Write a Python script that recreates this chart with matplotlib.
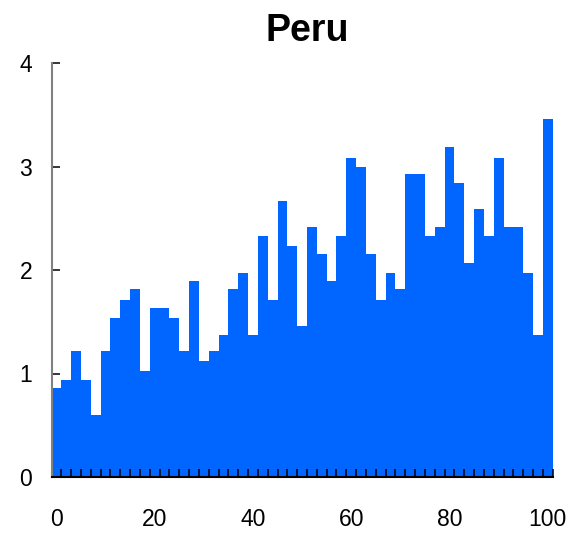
import matplotlib
matplotlib.use("Agg")
import matplotlib.pyplot as plt
import numpy as np
from matplotlib.ticker import MultipleLocator, FixedLocator

plt.rcParams['font.family'] = ['Liberation Sans', 'DejaVu Sans']

title = "Peru"
x_centers = list(range(0, 101, 2))
values = [0.86, 0.94, 1.22, 0.94, 0.60, 1.22, 1.54, 1.71, 1.82, 1.02,
          1.63, 1.63, 1.54, 1.22, 1.89, 1.12, 1.22, 1.37, 1.82, 1.97,
          1.37, 2.33, 1.71, 2.67, 2.23, 1.46, 2.42, 2.15, 1.89, 2.33,
          3.08, 3.00, 2.15, 1.71, 1.97, 1.82, 2.93, 2.93, 2.33, 2.42,
          3.19, 2.84, 2.07, 2.59, 2.33, 3.08, 2.42, 2.42, 1.97, 1.37,
          3.46]
x_ticks = [0, 20, 40, 60, 80, 100]
y_ticks = [0, 1, 2, 3, 4]

fig = plt.figure(figsize=(5.73, 5.35), dpi=100)
ax = fig.add_axes([51.5/573, 58/535, (552.7-51.5)/573, (477-63)/535])

ax.bar(x_centers, values, width=2, color='#0066FF', linewidth=0, zorder=1)

ax.set_xlim(-1, 101)
ax.set_ylim(0, 4)

ax.xaxis.set_major_locator(FixedLocator(x_ticks))
ax.xaxis.set_minor_locator(FixedLocator(list(range(1, 102, 2))))
ax.yaxis.set_major_locator(FixedLocator(y_ticks))

ax.tick_params(axis='x', which='major', length=0, pad=22, labelsize=16.5)
ax.tick_params(axis='x', which='minor', direction='in', length=5.8, width=1.1, color='black')
ax.tick_params(axis='y', which='major', direction='in', length=5.8, width=1.1, pad=14, labelsize=16.5, color='black')

for s in ['top', 'right']:
    ax.spines[s].set_visible(False)
ax.spines['left'].set_color('#808080')
ax.spines['left'].set_linewidth(1.5)
ax.spines['bottom'].set_color('black')
ax.spines['bottom'].set_linewidth(1.5)

fig.text(307/573, 1 - 31/535, title, ha='center', va='center', fontsize=27, fontweight='bold')

fig.savefig('out.png', dpi=100)
